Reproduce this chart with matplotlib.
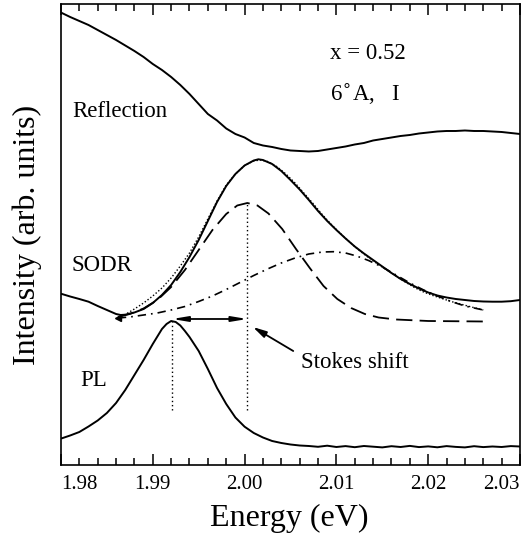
import matplotlib
matplotlib.use("Agg")
import matplotlib.pyplot as plt
from matplotlib.ticker import MultipleLocator

plt.rcParams['font.family'] = ['Liberation Serif', 'DejaVu Serif']

# Reflection spectrum
refl_e = [1.9801, 1.9810, 1.9820, 1.9830, 1.9840, 1.9850, 1.9860, 1.9870,
          1.9880, 1.9890, 1.9900, 1.9910, 1.9920, 1.9930, 1.9940, 1.9950,
          1.9960, 1.9970, 1.9980, 1.9990, 2.0000, 2.0010, 2.0020, 2.0030,
          2.0040, 2.0050, 2.0060, 2.0070, 2.0080, 2.0090, 2.0100, 2.0110,
          2.0120, 2.0130, 2.0140, 2.0150, 2.0160, 2.0170, 2.0180, 2.0190,
          2.0200, 2.0210, 2.0220, 2.0230, 2.0240, 2.0250, 2.0260, 2.0270,
          2.0280, 2.0290, 2.0300]
refl_y = [452.0, 448.0, 444.0, 440.0, 435.0, 430.0, 425.0, 419.5,
          414.0, 408.0, 401.0, 395.0, 388.0, 380.0, 371.0, 361.0,
          351.0, 344.5, 336.5, 331.0, 327.5, 322.0, 319.5, 318.0,
          316.0, 314.5, 314.0, 313.5, 314.0, 315.5, 317.0, 318.5,
          320.5, 322.0, 324.5, 326.0, 327.5, 329.0, 330.0, 331.5,
          332.5, 333.5, 334.0, 334.0, 334.5, 334.0, 334.0, 333.5,
          333.0, 332.0, 331.0]

# SODR measured
sodr_e = [1.9801, 1.9810, 1.9820, 1.9830, 1.9840, 1.9850, 1.9860, 1.9865,
          1.9870, 1.9880, 1.9890, 1.9900, 1.9910, 1.9920, 1.9930, 1.9940,
          1.9950, 1.9960, 1.9970, 1.9980, 1.9990, 2.0000, 2.0010, 2.0015,
          2.0020, 2.0030, 2.0040, 2.0050, 2.0060, 2.0070, 2.0080, 2.0090,
          2.0100, 2.0110, 2.0120, 2.0130, 2.0140, 2.0150, 2.0160, 2.0170,
          2.0180, 2.0190, 2.0200, 2.0210, 2.0220, 2.0230, 2.0240, 2.0250,
          2.0260, 2.0270, 2.0280, 2.0290, 2.0300]
sodr_y = [171.0, 168.5, 166.0, 163.3, 159.0, 155.0, 151.0, 150.0,
          150.3, 152.5, 156.0, 162.0, 170.0, 180.0, 193.0, 208.0,
          225.0, 244.0, 263.0, 279.0, 291.0, 299.5, 304.5, 305.7,
          305.0, 301.0, 294.0, 285.0, 275.5, 265.0, 254.0, 244.0,
          235.0, 226.5, 218.5, 211.5, 205.0, 198.5, 192.0, 186.0,
          181.0, 176.5, 172.5, 169.5, 167.5, 166.0, 165.0, 164.0,
          163.5, 163.3, 163.3, 163.8, 165.0]

# SODR fit (dotted)
fit_e = [1.9862, 1.9870, 1.9880, 1.9890, 1.9900, 1.9910, 1.9920, 1.9930,
         1.9940, 1.9950, 1.9960, 1.9970, 1.9980, 1.9990, 2.0000, 2.0010,
         2.0017, 2.0025, 2.0035, 2.0045, 2.0055, 2.0065, 2.0075, 2.0085,
         2.0095, 2.0105, 2.0115, 2.0125, 2.0135, 2.0145, 2.0155, 2.0165,
         2.0175, 2.0185, 2.0195, 2.0205, 2.0215, 2.0225, 2.0235, 2.0245,
         2.0260]
fit_y = [147.0, 150.5, 156.0, 162.0, 169.0, 177.0, 187.0, 199.0,
         212.0, 228.0, 246.0, 264.0, 280.0, 291.0, 299.5, 304.0,
         305.0, 303.5, 298.5, 291.0, 282.0, 271.5, 261.0, 250.0,
         240.0, 231.0, 222.5, 214.5, 207.5, 201.0, 195.0, 189.0,
         183.0, 177.5, 173.0, 169.5, 166.5, 163.5, 161.0, 158.5,
         155.0]

# fit component 1 (dashed)
comp1_e = [1.9862, 1.9875, 1.9890, 1.9905, 1.9920, 1.9935, 1.9950, 1.9965,
           1.9980, 1.9992, 2.0003, 2.0014, 2.0026, 2.0041, 2.0056, 2.0071,
           2.0086, 2.0101, 2.0116, 2.0131, 2.0146, 2.0165, 2.0200, 2.0260]
comp1_y = [148.0, 151.0, 156.5, 165.0, 178.0, 195.0, 215.0, 235.0,
           251.0, 259.5, 262.0, 259.5, 251.5, 236.0, 216.0, 197.0,
           179.0, 166.0, 157.0, 151.0, 147.5, 145.5, 144.0, 143.5]

# fit component 2 (dash-dot)
comp2_e = [1.9862, 1.9875, 1.9890, 1.9905, 1.9920, 1.9935, 1.9950, 1.9965,
           1.9980, 1.9995, 2.0010, 2.0025, 2.0040, 2.0055, 2.0070, 2.0085,
           2.0097, 2.0110, 2.0122, 2.0135, 2.0150, 2.0165, 2.0180, 2.0195,
           2.0210, 2.0225, 2.0240, 2.0260]
comp2_y = [147.0, 148.0, 150.0, 152.0, 155.0, 158.5, 163.5, 169.0,
           175.5, 182.5, 189.5, 196.0, 202.0, 207.0, 211.0, 213.0,
           213.3, 212.0, 209.0, 204.5, 198.0, 190.0, 182.0, 175.0,
           169.0, 163.5, 159.0, 155.0]

# PL spectrum
pl_e = [1.9801, 1.9810, 1.9820, 1.9830, 1.9840, 1.9850, 1.9860, 1.9870,
        1.9880, 1.9890, 1.9900, 1.9910, 1.9915, 1.9920, 1.9925, 1.9930,
        1.9935, 1.9940, 1.9950, 1.9960, 1.9970, 1.9980, 1.9990, 2.0000,
        2.0010, 2.0020, 2.0030, 2.0040, 2.0050, 2.0060, 2.0070, 2.0080,
        2.0090, 2.0100, 2.0110, 2.0120, 2.0130, 2.0140, 2.0150, 2.0160,
        2.0170, 2.0180, 2.0190, 2.0200, 2.0210, 2.0220, 2.0230, 2.0240,
        2.0250, 2.0260, 2.0270, 2.0280, 2.0290, 2.0300]
pl_y = [26.7, 29.5, 33.0, 38.5, 44.5, 52.0, 62.0, 75.0,
        90.0, 105.0, 121.0, 136.0, 141.0, 144.0, 143.0, 139.5,
        134.0, 128.0, 114.0, 96.0, 77.0, 61.0, 47.5, 38.3,
        32.0, 27.5, 24.0, 22.0, 20.5, 19.5, 19.0, 18.2,
        19.3, 18.0, 18.9, 17.8, 19.0, 18.3, 17.6, 18.8,
        18.0, 19.1, 17.9, 18.6, 17.7, 18.9, 18.1, 17.6,
        18.8, 17.9, 18.5, 18.0, 18.9, 18.5]

pl_peak = 1.9921
sodr_peak = 2.0003
xticks = [1.98, 1.99, 2.00, 2.01, 2.02, 2.03]

fig = plt.figure(figsize=(5.27, 5.39), dpi=100)
ax = fig.add_axes([0.1157, 0.1373, 0.8710, 0.8553])

ax.plot(refl_e, refl_y, color='black', lw=1.4)
ax.plot(sodr_e, sodr_y, color='black', lw=1.4)
ax.plot(fit_e, fit_y, color='black', lw=1.0, linestyle=(0, (1, 1.5)))
ax.plot(comp1_e, comp1_y, color='black', lw=1.3, linestyle=(0, (9, 4)))
ax.plot(comp2_e, comp2_y, color='black', lw=1.2, linestyle=(0, (5, 3, 1, 3)))
ax.plot(pl_e, pl_y, color='black', lw=1.4)

# small marker at the start of the fit
ax.plot([fit_e[0]], [fit_y[0]], marker='<', color='black', ms=5)

# vertical dotted guides at the peaks
ax.plot([pl_peak, pl_peak], [55, 143], color='black', lw=1.0, linestyle=(0, (1, 2)))
ax.plot([sodr_peak, sodr_peak], [55, 262], color='black', lw=1.0, linestyle=(0, (1, 2)))

# Stokes shift double arrow
ax.annotate('', xy=(pl_peak, 146), xytext=(sodr_peak, 146),
            arrowprops=dict(arrowstyle='<|-|>,head_length=0.9,head_width=0.15',
                            color='black', lw=1.3, shrinkA=0, shrinkB=0))
ax.annotate('', xy=(2.0009, 138), xytext=(2.0053, 114),
            arrowprops=dict(arrowstyle='-|>,head_length=0.8,head_width=0.2',
                            color='black', lw=1.3, shrinkA=0, shrinkB=0))
ax.text(2.0062, 102, 'Stokes shift', fontsize=16.5, va='center', ha='left')

ax.text(1.9812, 353, 'Reflection', fontsize=16.5, va='center')
ax.text(1.9812, 199, 'SODR', fontsize=16.5, va='center')
ax.text(1.9821, 84, 'PL', fontsize=16.5, va='center')
ax.text(2.0093, 411, 'x = 0.52', fontsize=16.5, va='center')
ax.text(2.0093, 371, r'6$^{\circ}$A,   I', fontsize=16.5, va='center')

ax.set_xlim(1.98, 2.03)
ax.set_ylim(0, 461)
ax.set_xticks(xticks)
ax.set_xticklabels(['%.2f' % t for t in xticks])
ax.xaxis.set_minor_locator(MultipleLocator(0.002))
ax.set_yticks([])
ax.tick_params(axis='x', which='both', direction='in', top=True, labelsize=15, pad=7)
ax.tick_params(axis='x', which='major', length=8, width=1.1)
ax.tick_params(axis='x', which='minor', length=5, width=1.1)
labels = ax.get_xticklabels()
labels[0].set_horizontalalignment('left')
labels[-1].set_horizontalalignment('right')
for s in ax.spines.values():
    s.set_linewidth(1.2)

ax.set_xlabel('Energy (eV)', fontsize=23)
ax.set_ylabel('Intensity (arb. units)', fontsize=23)
ax.xaxis.set_label_coords(0.497, -0.085)
ax.yaxis.set_label_coords(-0.042, 0.5)

fig.savefig('out.png', dpi=100)
